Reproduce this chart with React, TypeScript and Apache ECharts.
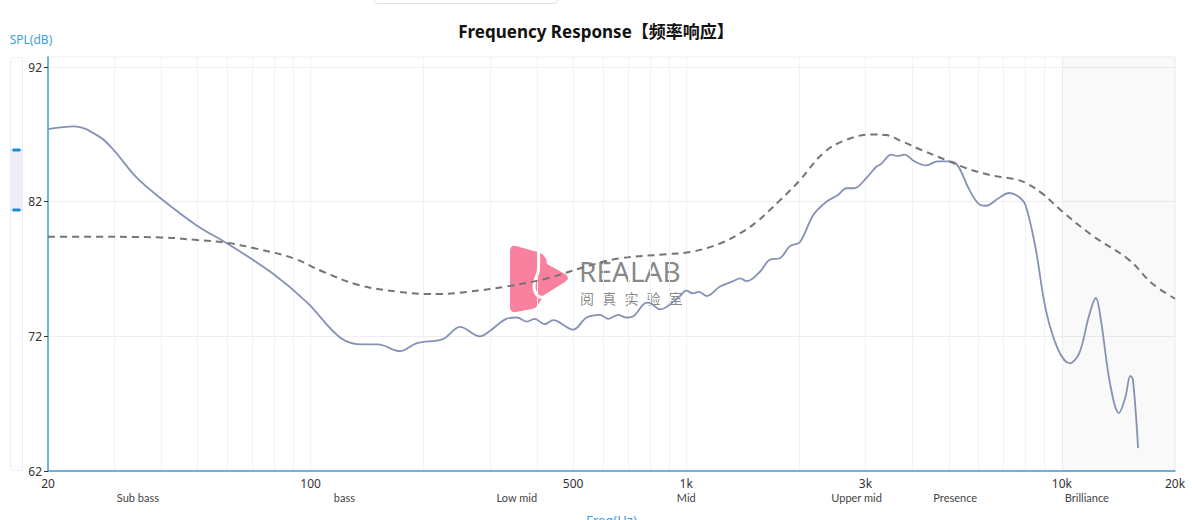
import React, { useEffect, useRef } from "react";
import * as echarts from "echarts";

// ---- data ----
const measuredFreq = [20, 23.5, 27.5, 30, 34.4, 39.7, 50, 60, 79, 98, 120, 138, 151, 173, 192, 225, 250, 282, 300, 332, 354, 376, 395, 420, 442, 500, 543, 589, 620, 659, 690, 723, 785, 810, 851, 962, 1000, 1040, 1080, 1133, 1230, 1334, 1390, 1450, 1571, 1671, 1775, 1888, 2007, 2177, 2361, 2535, 2668, 2800, 3014, 3205, 3300, 3513, 3640, 3811, 4051, 4350, 4669, 5013, 5276, 5669, 6025, 6280, 6811, 7232, 7690, 8010, 8517, 9056, 9777, 10491, 11123, 11800, 12310, 12700, 13430, 14180, 14760, 15210, 15450, 15950];
const measuredSpl = [87.4, 87.6, 86.8, 85.8, 83.8, 82.3, 80.2, 78.9, 76.7, 74.5, 71.9, 71.4, 71.4, 70.9, 71.5, 71.8, 72.7, 72.0, 72.4, 73.3, 73.4, 73.1, 73.3, 72.9, 73.2, 72.5, 73.4, 73.6, 73.3, 73.6, 73.4, 73.5, 74.5, 74.4, 74.0, 75.0, 75.4, 75.2, 75.3, 75.0, 75.7, 76.1, 76.3, 76.1, 76.8, 77.7, 77.8, 78.7, 79.0, 81.0, 82.0, 82.5, 83.0, 83.0, 83.75, 84.6, 84.8, 85.5, 85.4, 85.5, 85.0, 84.7, 85.0, 85.0, 84.7, 82.9, 81.8, 81.7, 82.3, 82.65, 82.35, 81.7, 78.5, 74.0, 71.0, 70.0, 70.75, 73.5, 74.85, 73.2, 68.5, 66.3, 67.5, 69.06, 68.8, 63.7];

const targetFreq = [20, 23.5, 40, 50, 60, 72, 90, 108, 135, 173, 204, 221, 260, 332, 425, 543, 666, 887, 1040, 1230, 1390, 1539, 1775, 2007, 2314, 2668, 3140, 3406, 3774, 4264, 4916, 5553, 6404, 7389, 8010, 8873, 10000, 12040, 15060, 17360, 20000];
const targetSpl = [79.4, 79.4, 79.35, 79.15, 78.95, 78.5, 77.8, 76.8, 75.8, 75.3, 75.15, 75.15, 75.3, 75.7, 76.3, 77.2, 77.8, 78.1, 78.3, 78.9, 79.65, 80.5, 82.1, 83.6, 85.6, 86.6, 87.0, 86.95, 86.45, 85.8, 85.1, 84.5, 84.0, 83.7, 83.4, 82.6, 81.3, 79.5, 77.7, 75.95, 74.8];

const gridFreqs = [20, 30, 40, 50, 60, 70, 80, 90, 100, 200, 300, 400, 500, 600, 700, 800, 900, 1000, 2000, 3000, 4000, 5000, 6000, 7000, 8000, 9000, 10000, 20000];
const freqLabels = [20, 100, 500, 1000, 3000, 10000, 20000];
const splTicks = [62, 72, 82, 92];

const bandFreqs = [34.7, 123, 354, 1000, 2840, 5200, 11650];
const bandNames = ["Sub bass", "bass", "Low mid", "Mid", "Upper mid", "Presence", "Brilliance"];

const brillianceRange = [10000, 20000];

const watermarkChars = ["阅", "真", "实", "验", "室"];

const FONT = "'Noto Sans', 'Noto Sans CJK SC', sans-serif";
const AXIS_BLUE = "#3d9fdc";

const logoPath =
  "M 2 6 Q 2 0 8 1 L 29.5 7 L 34 9 Q 39 13 39 19 L 57 29 Q 63 33 57 37 L 36 50 L 30 60 Q 28 63 24 64 L 8 67 Q 2 68 2 62 Z";

let logoRegistered = false;
function registerLogo() {
  if (logoRegistered) return;
  try {
    echarts.graphic.registerShape("realabLogo", echarts.graphic.extendPath(logoPath, {}));
  } catch (e) {
    // ignore
  }
  logoRegistered = true;
}

function fmtFreq(v: number) {
  const r = Math.round(v);
  return r >= 1000 ? r / 1000 + "k" : String(r);
}

function bandName(v: number) {
  let best = 0;
  let bd = Infinity;
  for (let i = 0; i < bandFreqs.length; i++) {
    const d = Math.abs(Math.log(v) - Math.log(bandFreqs[i]));
    if (d < bd) {
      bd = d;
      best = i;
    }
  }
  return bandNames[best];
}

export default function App() {
  const ref = useRef<HTMLDivElement>(null);

  useEffect(() => {
    if (!ref.current) return;
    registerLogo();
    const chart = echarts.init(ref.current, undefined, { renderer: "svg" });

    const measured = measuredFreq.map((f, i) => [f, measuredSpl[i]]);
    const target = targetFreq.map((f, i) => [f, targetSpl[i]]);

    const sliderHandles = [150, 210];

    const option: any = {
      animation: false,
      backgroundColor: "#ffffff",
      textStyle: { fontFamily: FONT },
      title: {
        text: "Frequency Response【频率响应】",
        left: "center",
        top: 18,
        textStyle: { fontSize: 17, fontWeight: "bold", color: "#111", fontFamily: FONT },
      },
      grid: {
        left: 48,
        right: 17,
        top: 57,
        bottom: 49,
        containLabel: false,
        outerBoundsMode: "none",
        show: true,
        borderColor: "#eceef3",
        borderWidth: 1,
        backgroundColor: "transparent",
      },
      xAxis: [
        {
          type: "log",
          logBase: 10,
          min: 20,
          max: 20000,
          name: "Freq(Hz)",
          nameLocation: "middle",
          nameGap: 42,
          nameTextStyle: { color: AXIS_BLUE, fontSize: 13, fontFamily: FONT },
          axisLine: { show: true, onZero: false, lineStyle: { color: AXIS_BLUE, width: 1.5 } },
          axisTick: { show: false, customValues: gridFreqs },
          axisLabel: {
            customValues: freqLabels,
            formatter: (v: number) => fmtFreq(v),
            color: "#333",
            fontSize: 12,
            margin: 6,
            fontFamily: FONT,
          },
          splitLine: { show: true, lineStyle: { color: "#f1f2f8", width: 1 } },
          minorTick: { show: false },
        },
        {
          type: "log",
          logBase: 10,
          min: 20,
          max: 20000,
          position: "bottom",
          offset: 17,
          axisLine: { show: false, onZero: false },
          axisTick: { show: false, customValues: bandFreqs },
          axisLabel: {
            customValues: bandFreqs,
            formatter: (v: number) => bandName(v),
            color: "#444",
            fontSize: 11,
            margin: 4,
            fontFamily: "Lato, 'Noto Sans', sans-serif",
          },
          splitLine: { show: false },
        },
      ],
      yAxis: {
        type: "value",
        min: 62,
        max: 92.75,
        name: "SPL(dB)",
        nameLocation: "end",
        nameGap: 12,
        nameTextStyle: {
          color: AXIS_BLUE,
          fontSize: 12,
          fontFamily: FONT,
          align: "center",
          padding: [0, 34, 0, 0],
        },
        axisLine: { show: true, onZero: false, lineStyle: { color: AXIS_BLUE, width: 1.5 } },
        axisTick: { show: true, length: 4, customValues: splTicks, lineStyle: { color: "#333" } },
        axisLabel: { customValues: splTicks, color: "#333", fontSize: 12, margin: 6, fontFamily: FONT },
        splitLine: { show: true, lineStyle: { color: "#eeeef2", width: 1 } },
      },
      graphic: [
        {
          type: "rect",
          shape: { x: 373.5, y: -10, width: 184, height: 13.5, r: 4 },
          style: { fill: "#fff", stroke: "#e2e2e2", lineWidth: 1 },
        },
        {
          type: "rect",
          shape: { x: 10.5, y: 57.5, width: 12, height: 413, r: 3 },
          style: { fill: "#fff", stroke: "#eceef6", lineWidth: 1 },
        },
        {
          type: "rect",
          shape: { x: 11, y: sliderHandles[0], width: 11, height: sliderHandles[1] - sliderHandles[0] },
          style: { fill: "#efedf7" },
        },
        ...sliderHandles.flatMap((hy) => [
          {
            type: "rect",
            shape: { x: 10.5, y: hy - 0.5, width: 12, height: 1 },
            style: { fill: "#a6cbe8" },
          },
          {
            type: "rect",
            shape: { x: 12.5, y: hy - 1.5, width: 8, height: 3, r: 1 },
            style: { fill: "#1c89d3" },
          },
        ]),
        {
          type: "realabLogo",
          x: 508,
          y: 245,
          style: { fill: "#f8819f" },
        },
        {
          type: "polyline",
          shape: {
            points: [
              [538.3, 244],
              [538.3, 271],
              [534.5, 282],
              [534.8, 291],
              [540, 297],
              [549, 296],
            ],
            smooth: 0.3,
          },
          style: { stroke: "#ffffff", lineWidth: 3, fill: null },
        },
        {
          type: "text",
          x: 579,
          y: 271,
          style: {
            text: "REALAB",
            fontSize: 28,
            fontFamily: "'Noto Sans', sans-serif",
            fill: "rgba(120,120,120,0.88)",
            verticalAlign: "middle",
            align: "left",
          },
        },
        ...watermarkChars.map((c, i) => ({
          type: "text",
          x: 580 + i * 22.2,
          y: 298,
          style: {
            text: c,
            fontSize: 14,
            fontFamily: "'Noto Sans CJK SC', sans-serif",
            fill: "rgba(120,120,120,0.88)",
            verticalAlign: "middle",
            align: "left",
          },
        })),
      ],
      series: [
        {
          name: "Measured",
          type: "line",
          xAxisIndex: 0,
          data: measured,
          showSymbol: false,
          smooth: 0.35,
          z: 3,
          lineStyle: { color: "#8592b5", width: 1.8 },
          itemStyle: { color: "#8592b5" },
          markArea: {
            silent: true,
            itemStyle: { color: "rgba(0,0,0,0.022)" },
            data: [[{ xAxis: brillianceRange[0] }, { xAxis: brillianceRange[1] }]],
          },
        },
        {
          name: "Target",
          type: "line",
          xAxisIndex: 0,
          data: target,
          showSymbol: false,
          smooth: 0.4,
          z: 3,
          lineStyle: { color: "#757575", width: 2, type: [7, 5] },
          itemStyle: { color: "#757575" },
        },
      ],
    };

    chart.setOption(option);
    return () => {
      chart.dispose();
    };
  }, []);

  return (
    <div
      ref={ref}
      style={{ position: "fixed", left: 0, top: 0, width: "1192px", height: "520px", background: "#fff" }}
    />
  );
}
